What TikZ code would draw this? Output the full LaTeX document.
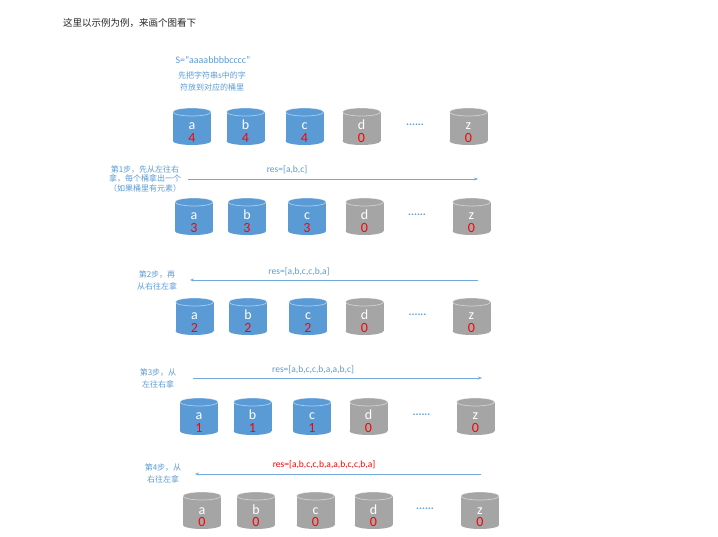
\documentclass[tikz,border=0pt]{standalone}
\usepackage{fontspec}
\setmainfont{Carlito}
\newfontfamily\cjk{Noto Sans CJK SC}
\usetikzlibrary{arrows.meta}
\definecolor{bblue}{HTML}{5B9BD5}
\definecolor{bgray}{HTML}{A5A5A5}
\definecolor{tblue}{HTML}{5B9BD5}
\definecolor{rred}{HTML}{FF0000}
\newcommand\bkt[6]{%
  \fill[#6] (#2-19,#3+4) rectangle (#2+19,#3+33);
  \fill[#6] (#2,#3+33) ellipse [x radius=19pt, y radius=4pt];
  \filldraw[fill=#6, draw=white, draw opacity=0.5, line width=0.7pt] (#2,#3+4) ellipse [x radius=19pt, y radius=4pt];
  \node[lett] (#1) at (#2,#3+22) {#4};
  \node[numb] (#1n) at (#2,#3+34.5) {#5};
}
\newcommand\dotsat[3]{\node[dotlab] (#1) at (#2,#3+17) {......};}
\begin{document}
\begin{tikzpicture}[x=1pt,y=-1pt,
  lett/.style={text=white, font=\fontsize{14}{14}\selectfont, inner sep=0pt, anchor=base},
  numb/.style={text=rred, font=\fontsize{14}{14}\selectfont, inner sep=0pt, anchor=base},
  dotlab/.style={text=tblue, font=\bfseries\fontsize{11}{11}\selectfont, inner sep=0pt},
  cjklab/.style={text=tblue, font=\cjk\fontsize{8}{12}\selectfont, align=center, inner sep=0pt},
  reslab/.style={text=tblue, font=\fontsize{9.5}{10}\selectfont, inner sep=0pt},
  flow/.style={draw=tblue!85, line width=0.7pt, -{Stealth[length=4pt,width=3pt]}}]
\useasboundingbox (0,0) rectangle (718,537);
\fill[white] (0,0) rectangle (718,537);

\node[anchor=west, inner sep=0pt, font=\cjk\fontsize{9.5}{10}\selectfont, text=black!85] (intro) at (63,23) {这里以示例为例，来画个图看下};

% Row 1
\node[reslab, font=\fontsize{10}{10}\selectfont] (sdef) at (213,60) {S=“aaaabbbbcccc”};
\node[cjklab] (put) at (212,81) {先把字符串s中的字\\符放到对应的桶里};
\bkt{r1a}{192}{108}{a}{4}{bblue}
\bkt{r1b}{245.5}{108}{b}{4}{bblue}
\bkt{r1c}{304.5}{108}{c}{4}{bblue}
\bkt{r1d}{361.5}{108}{d}{0}{bgray}
\dotsat{r1dots}{415}{108}
\bkt{r1z}{468.5}{108}{z}{0}{bgray}

% Row 2
\node[cjklab, font=\cjk\fontsize{8}{9.2}\selectfont] (s1) at (145,179) {第1步，先从左往右\\拿，每个桶拿出一个\\（如果桶里有元素）};
\node[reslab] (res1) at (287,170) {res=[a,b,c]};
\coordinate (a1s) at (188,179);
\coordinate (a1e) at (478,179);
\draw[flow] (a1s) -- (a1e);
\bkt{r2a}{194}{198}{a}{3}{bblue}
\bkt{r2b}{247}{198}{b}{3}{bblue}
\bkt{r2c}{307}{198}{c}{3}{bblue}
\bkt{r2d}{364.5}{198}{d}{0}{bgray}
\dotsat{r2dots}{417}{198}
\bkt{r2z}{471.5}{198}{z}{0}{bgray}

% Row 3
\node[cjklab] (s2) at (157,280) {第2步，再\\从右往左拿};
\node[reslab] (res2) at (299,272) {res=[a,b,c,c,b,a]};
\coordinate (a2s) at (478,280);
\coordinate (a2e) at (190,280);
\draw[flow] (a2s) -- (a2e);
\bkt{r3a}{194.5}{298}{a}{2}{bblue}
\bkt{r3b}{248}{298}{b}{2}{bblue}
\bkt{r3c}{308}{298}{c}{2}{bblue}
\bkt{r3d}{364.5}{298}{d}{0}{bgray}
\dotsat{r3dots}{417.5}{298}
\bkt{r3z}{471.5}{298}{z}{0}{bgray}

% Row 4
\node[cjklab] (s3) at (158,378) {第3步，从\\左往右拿};
\node[reslab] (res3) at (313,370) {res=[a,b,c,c,b,a,a,b,c]};
\coordinate (a3s) at (193,378);
\coordinate (a3e) at (482,378);
\draw[flow] (a3s) -- (a3e);
\bkt{r4a}{199}{398}{a}{1}{bblue}
\bkt{r4b}{252.5}{398}{b}{1}{bblue}
\bkt{r4c}{312}{398}{c}{1}{bblue}
\bkt{r4d}{368.5}{398}{d}{0}{bgray}
\dotsat{r4dots}{421.5}{398}
\bkt{r4z}{475.5}{398}{z}{0}{bgray}

% Row 5
\node[cjklab] (s4) at (163,473) {第4步，从\\右往左拿};
\node[reslab, text=rred] (res4) at (324,465) {res=[a,b,c,c,b,a,a,b,c,c,b,a]};
\coordinate (a4s) at (481,474);
\coordinate (a4e) at (195,474);
\draw[flow] (a4s) -- (a4e);
\bkt{r5a}{202}{492}{a}{0}{bgray}
\bkt{r5b}{256}{492}{b}{0}{bgray}
\bkt{r5c}{315.5}{492}{c}{0}{bgray}
\bkt{r5d}{373.5}{492}{d}{0}{bgray}
\dotsat{r5dots}{425}{492}
\bkt{r5z}{480}{492}{z}{0}{bgray}
\end{tikzpicture}
\end{document}
